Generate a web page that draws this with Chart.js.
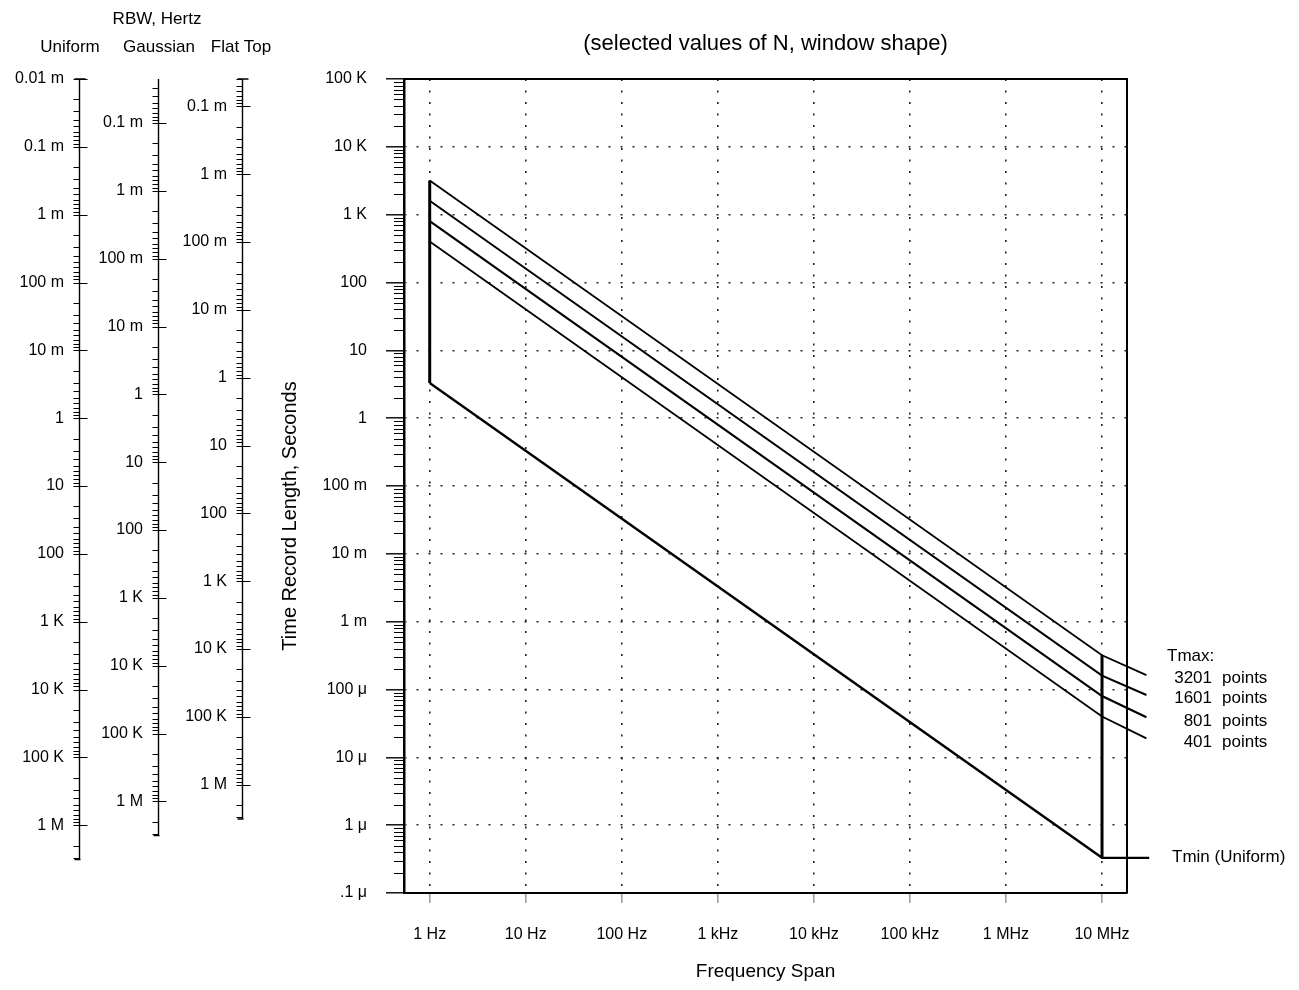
<!DOCTYPE html>
<html>
<head>
<meta charset="utf-8">
<script src="https://cdn.jsdelivr.net/npm/chart.js@4.4.1/dist/chart.umd.min.js"></script>
<style>
  html, body { margin: 0; padding: 0; background: #fff; }
  #wrap { width: 1299px; height: 990px; }
</style>
</head>
<body>
<div id="wrap"><canvas id="c" width="1299" height="990"></canvas></div>
<script>
// ---------- data ----------
const spanHz      = [1, 1e7, 2.9e7];            // frequency span for the Tmax lines
const tmax3201    = [3201, 3.2e-4, 1.63e-4];    // seconds
const tmax1601    = [1601, 1.6e-4, 8.3e-5];
const tmax801     = [801, 8.0e-5, 3.9e-5];
const tmax401     = [401, 4.0e-5, 1.9e-5];
const tminSpan    = [1, 1e7, 3.1e7];
const tminUniform = [3.3, 3.3e-7, 3.3e-7];
const lowEdgeSpan = [1, 1];
const lowEdgeT    = [3.3, 3201];
const highEdgeSpan = [1e7, 1e7];
const highEdgeT    = [3.3e-7, 3.2e-4];

const xTickValues = [1, 10, 100, 1e3, 1e4, 1e5, 1e6, 1e7];
const xTickLabels = ['1 Hz', '10 Hz', '100 Hz', '1 kHz', '10 kHz', '100 kHz', '1 MHz', '10 MHz'];
const yTickValues = [1e5, 1e4, 1e3, 100, 10, 1, 0.1, 0.01, 1e-3, 1e-4, 1e-5, 1e-6, 1e-7];
const yTickLabels = ['100 K', '10 K', '1 K', '100', '10', '1', '100 m', '10 m', '1 m', '100 \u03bc', '10 \u03bc', '1 \u03bc', '.1 \u03bc'];

// RBW nomogram scales (Hz)
const rbwUniformValues = [1e-5, 1e-4, 1e-3, 1e-2, 1e-1, 1, 10, 100, 1e3, 1e4, 1e5, 1e6];
const rbwUniformLabels = ['0.01 m', '0.1 m', '1 m', '100 m', '10 m', '1', '10', '100', '1 K', '10 K', '100 K', '1 M'];
const rbwGaussValues   = [1e-4, 1e-3, 1e-2, 1e-1, 1, 10, 100, 1e3, 1e4, 1e5, 1e6];
const rbwGaussLabels   = ['0.1 m', '1 m', '100 m', '10 m', '1', '10', '100', '1 K', '10 K', '100 K', '1 M'];
const rbwFlatValues    = [1e-4, 1e-3, 1e-2, 1e-1, 1, 10, 100, 1e3, 1e4, 1e5, 1e6];
const rbwFlatLabels    = ['0.1 m', '1 m', '100 m', '10 m', '1', '10', '100', '1 K', '10 K', '100 K', '1 M'];
const tbUniform = 1.0;   // RBW x T products
const tbGauss   = 2.24;
const tbFlat    = 3.95;
const rbwEnd    = 3.2e6; // lower end of the RBW scales

const yMin = 1e-7, yMax = 1e5;
const xMin = 0.54, xMax = 1.82e7;

// ---------- chart ----------
const FONT = '"Liberation Sans", Arial, sans-serif';
Chart.defaults.font.family = FONT;
Chart.defaults.color = '#000';

function pts(xs, ys) { return xs.map((x, i) => ({ x: x, y: ys[i] })); }
function line(label, xs, ys, w) {
  return { label, data: pts(xs, ys), borderColor: '#000', borderWidth: w, pointRadius: 0,
           fill: false, tension: 0, clip: false, xAxisID: 'x', yAxisID: 'y' };
}

function rbwScale(weight, factor, values, labels, width) {
  return {
    type: 'logarithmic', axis: 'y', position: 'left', weight: weight, reverse: true,
    min: factor / yMax, max: factor / yMin,
    grid: { display: false, drawTicks: false },
    border: { display: false },
    ticks: { autoSkip: false, padding: 16, color: '#000', font: { size: 16 },
             callback: (v, i) => labels[i] },
    afterBuildTicks: s => { s.ticks = values.map(v => ({ value: v })); },
    afterFit: s => { s.width = width; }
  };
}

const nomos = [
  { id: 'uni',  values: rbwUniformValues, cap: true },
  { id: 'gau',  values: rbwGaussValues,   cap: false },
  { id: 'flat', values: rbwFlatValues,    cap: true }
];

const decor = {
  id: 'decor',
  afterDraw(chart) {
    const ctx = chart.ctx;
    const ca = chart.chartArea;
    const ys = chart.scales.y;
    ctx.save();
    ctx.strokeStyle = '#000';
    // frame top and right
    ctx.lineWidth = 2;
    ctx.beginPath();
    ctx.moveTo(ca.left, ca.top); ctx.lineTo(ca.right, ca.top); ctx.lineTo(ca.right, ca.bottom);
    ctx.stroke();
    // minor ticks main y axis
    ctx.lineWidth = 1.2;
    ctx.beginPath();
    for (let d = -7; d < 5; d++) {
      for (let m = 2; m <= 9; m++) {
        const y = Math.round(ys.getPixelForValue(m * Math.pow(10, d))) + 0.5;
        ctx.moveTo(ca.left - 10, y); ctx.lineTo(ca.left, y);
      }
    }
    ctx.stroke();
    // nomogram axes
    nomos.forEach(n => {
      const s = chart.scales[n.id];
      const x = Math.round(s.right) - 0.5;
      const yTop = s.getPixelForValue(s.min);
      const yBot = s.getPixelForValue(rbwEnd);
      ctx.lineWidth = 1.4;
      ctx.beginPath();
      ctx.moveTo(x, yTop); ctx.lineTo(x, yBot);
      if (n.cap) { ctx.moveTo(x - 5, yTop); ctx.lineTo(x + 6, yTop); }
      ctx.moveTo(x - 5, yBot); ctx.lineTo(x + 1, yBot);
      ctx.stroke();
      ctx.lineWidth = 1.2;
      ctx.beginPath();
      n.values.forEach(v => {
        const y = Math.round(s.getPixelForValue(v)) + 0.5;
        ctx.moveTo(x - 6, y); ctx.lineTo(x + 8, y);
      });
      for (let d = -6; d < 7; d++) {
        for (let m = 2; m <= 9; m++) {
          const v = m * Math.pow(10, d);
          if (v < s.min || v > rbwEnd) continue;
          const y = Math.round(s.getPixelForValue(v)) + 0.5;
          ctx.moveTo(x - 6, y); ctx.lineTo(x, y);
        }
      }
      ctx.stroke();
    });
    // texts
    ctx.fillStyle = '#000';
    ctx.textBaseline = 'middle';
    ctx.textAlign = 'center';
    ctx.font = '17px ' + FONT;
    ctx.fillText('RBW, Hertz', 157, 19);
    ctx.fillText('Uniform', 70, 47);
    ctx.fillText('Gaussian', 159, 47);
    ctx.fillText('Flat Top', 241, 47);
    const cx = (ca.left + ca.right) / 2;
    ctx.font = '22px ' + FONT;
    ctx.fillText('(selected values of N, window shape)', cx, 44);
    ctx.font = '19px ' + FONT;
    ctx.fillText('Frequency Span', cx, 972);
    ctx.save();
    ctx.font = '20px ' + FONT;
    ctx.translate(290, 516);
    ctx.rotate(-Math.PI / 2);
    ctx.fillText('Time Record Length, Seconds', 0, 0);
    ctx.restore();
    ctx.font = '17px ' + FONT;
    ctx.textAlign = 'left';
    ctx.fillText('Tmax:', 1167, 656);
    const rows = [['3201', 678], ['1601', 698], ['801', 721], ['401', 742]];
    rows.forEach(r => {
      ctx.textAlign = 'right'; ctx.fillText(r[0], 1212, r[1]);
      ctx.textAlign = 'left'; ctx.fillText('points', 1222, r[1]);
    });
    ctx.fillText('Tmin (Uniform)', 1172, 857);
    ctx.restore();
  }
};

new Chart(document.getElementById('c'), {
  type: 'line',
  data: {
    datasets: [
      line('3201 points', spanHz, tmax3201, 1.8),
      line('1601 points', spanHz, tmax1601, 2.0),
      line('801 points',  spanHz, tmax801, 2.2),
      line('401 points',  spanHz, tmax401, 1.8),
      line('Tmin (Uniform)', tminSpan, tminUniform, 2.4),
      line('1 Hz edge', lowEdgeSpan, lowEdgeT, 3),
      line('10 MHz edge', highEdgeSpan, highEdgeT, 3)
    ]
  },
  plugins: [decor],
  options: {
    responsive: false,
    animation: false,
    devicePixelRatio: 1,
    layout: { padding: { left: 0, top: 79, right: 172, bottom: 0 } },
    plugins: { legend: { display: false }, tooltip: { enabled: false }, title: { display: false } },
    scales: {
      x: {
        type: 'logarithmic', position: 'bottom', min: xMin, max: xMax,
        grid: { color: '#222', lineWidth: 1.6, drawOnChartArea: true,
                tickLength: 10, tickColor: '#999', tickWidth: 1.5, tickBorderDash: [] },
        border: { display: true, color: '#000', width: 2, dash: [2, 9.5] },
        ticks: { autoSkip: false, maxRotation: 0, padding: 22, color: '#000', font: { size: 16 },
                 callback: (v, i) => xTickLabels[i] },
        afterBuildTicks: s => { s.ticks = xTickValues.map(v => ({ value: v })); },
        afterFit: s => { s.height = 97; }
      },
      y: {
        type: 'logarithmic', position: 'left', weight: 0, min: yMin, max: yMax,
        grid: { color: '#222', lineWidth: 1.6, drawOnChartArea: true,
                tickLength: 18, tickColor: '#000', tickWidth: 1.4, tickBorderDash: [] },
        border: { display: true, color: '#000', width: 2.5, dash: [2, 10], dashOffset: -11 },
        ticks: { autoSkip: false, padding: 19, color: '#000', font: { size: 16 },
                 callback: (v, i) => yTickLabels[i] },
        afterBuildTicks: s => { s.ticks = yTickValues.map(v => ({ value: v })); },
        afterFit: s => { s.width = 161; }
      },
      flat: rbwScale(1, tbFlat, rbwFlatValues, rbwFlatLabels, 84),
      gau:  rbwScale(2, tbGauss, rbwGaussValues, rbwGaussLabels, 79),
      uni:  rbwScale(3, tbUniform, rbwUniformValues, rbwUniformLabels, 80)
    }
  }
});
</script>
</body>
</html>
